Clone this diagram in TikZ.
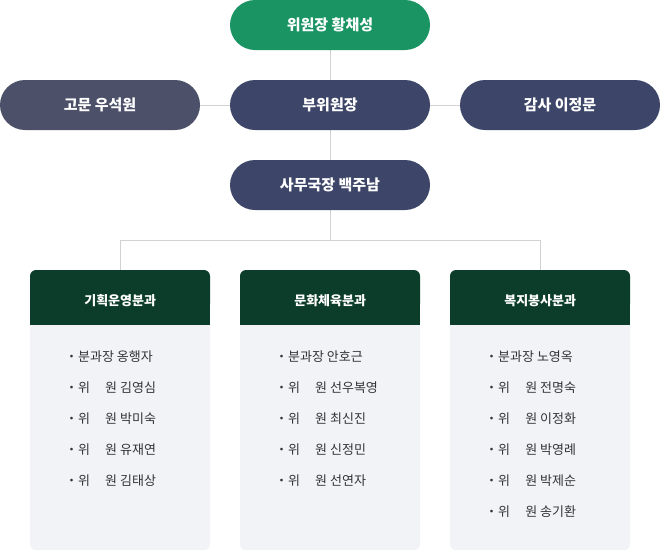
\documentclass[tikz,border=0pt]{standalone}
\usepackage{fontspec}
\setmainfont{Noto Sans CJK KR}
\usetikzlibrary{positioning}
\definecolor{chairgreen}{HTML}{1A9462}
\definecolor{officenavy}{HTML}{3D4668}
\definecolor{advisorgrey}{HTML}{4C5069}
\definecolor{teamgreen}{HTML}{0B3D2A}
\definecolor{teambody}{HTML}{F2F3F7}
\definecolor{linkgrey}{HTML}{D2D2D2}
\newcommand\wiwon{\makebox[3em][s]{위\hfil 원}}
\tikzset{
    pill/.style={rounded corners=25pt, minimum width=200pt, minimum height=50pt,
        text=white, font=\fontsize{15pt}{18pt}\selectfont\bfseries, inner sep=0pt},
    teamhead/.style={fill=teamgreen, minimum width=180pt, minimum height=50pt,
        text=white, font=\fontsize{13pt}{16pt}\selectfont\bfseries, inner sep=0pt},
    member/.style={anchor=west, text=black!80, font=\fontsize{13pt}{16pt}\selectfont, inner sep=0pt},
    link/.style={draw=linkgrey, line width=1pt}
}
\begin{document}
\begin{tikzpicture}[x=1pt,y=-1pt]
\useasboundingbox (0,0) rectangle (660,550);
% connectors first
\coordinate (bar) at (330,240);
\coordinate (barl) at (120,240);
\coordinate (barr) at (540,240);
\draw[link] (330,25) -- (bar);
\draw[link] (100,105) -- (560,105);
\draw[link] (barl) -- (barr);
\draw[link] (barl) -- (120,270);
\draw[link] (barr) -- (540,270);
% top
\node[pill, fill=chairgreen] (chair) at (330,25) {위원장 황채성};
\node[pill, fill=officenavy] (vice) at (330,105) {부위원장};
\node[pill, fill=advisorgrey] (advisor) at (100,105) {고문 우석원};
\node[pill, fill=officenavy] (auditor) at (560,105) {감사 이정문};
\node[pill, fill=officenavy] (office) at (330,185) {사무국장 백주남};
% teams
\foreach \x/\name/\title in {30/plan/기획운영분과, 240/culture/문화체육분과, 450/welfare/복지봉사분과}{
    \fill[teambody, rounded corners=6pt] (\x,300) rectangle (\x+180,550);
    \fill[teamgreen, rounded corners=6pt] (\x,270) rectangle (\x+180,310);
    \node[teamhead, anchor=north west] (\name) at (\x,275) {\title};
}
\foreach \n/\who [count=\i] in {분과장/옹행자, \wiwon/김영심, \wiwon/박미숙, \wiwon/유재연, \wiwon/김태상}
    \node[member] (plan\i) at (65,357+31*\i-31) {・\n\ \who};
\foreach \n/\who [count=\i] in {분과장/안호근, \wiwon/선우복영, \wiwon/최신진, \wiwon/신정민, \wiwon/선연자}
    \node[member] (culture\i) at (275,357+31*\i-31) {・\n\ \who};
\foreach \n/\who [count=\i] in {분과장/노영옥, \wiwon/전명숙, \wiwon/이정화, \wiwon/박영례, \wiwon/박제순, \wiwon/송기환}
    \node[member] (welfare\i) at (485,357+31*\i-31) {・\n\ \who};
\end{tikzpicture}
\end{document}
